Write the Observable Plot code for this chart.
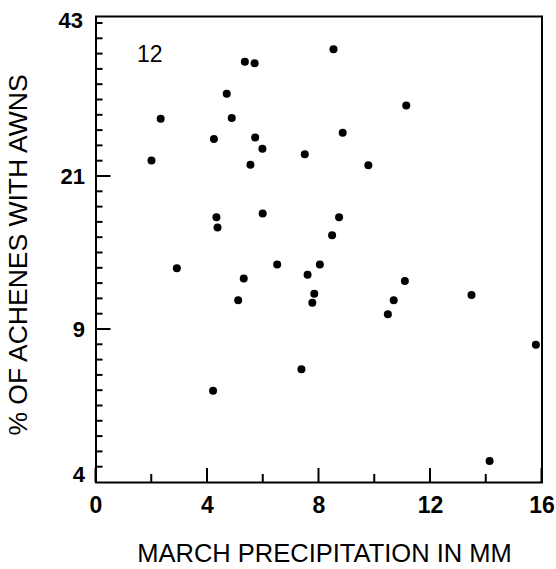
<!DOCTYPE html>
<html><head><meta charset="utf-8">
<script src="https://cdn.jsdelivr.net/npm/d3@7"></script>
<script src="https://cdn.jsdelivr.net/npm/@observablehq/plot@0.6"></script>
<style>body{margin:0;background:#fff} svg{display:block}</style>
</head><body><div id="chart"></div>
<script>
// March precipitation (mm) per site
const precipitation = [5.34,5.69,4.69,2.32,4.87,4.23,5.71,5.97,7.49,1.99,5.54,4.32,5.98,4.36,8.52,11.13,8.85,9.77,8.72,8.47,2.90,5.30,6.50,8.03,7.59,5.10,7.83,7.76,7.37,4.20,11.08,10.68,10.47,13.47,15.78,14.12];
// % of achenes with awns
const awnedPercent = [37.5,37.3,32.9,29.3,29.4,26.4,26.6,25.0,24.2,23.3,22.7,17.8,18.1,17.0,39.3,31.2,27.3,22.6,17.8,16.4,13.8,13.0,14.1,14.1,13.3,11.3,11.8,11.1,7.7,7.0,12.8,11.3,10.2,11.7,8.5,4.7];
const xMajorTicks = [0,4,8,12,16];
const xMinorTicks = [2,6,10,14];
const yTickLabels = [4,9,21,43];
const yLongTicks = [9,21];
const panelLabel = "12";
const xTitle = "MARCH PRECIPITATION IN MM";
const yTitle = "% OF ACHENES WITH AWNS";

const points = precipitation.map((x, i) => ({x, y: awnedPercent[i]}));
// minor ticks: nine evenly spaced between each pair of labelled values, plus the top label
const yMinorTicks = [];
for (let s = 0; s < yTickLabels.length - 1; s++) {
  const a = yTickLabels[s], b = yTickLabels[s + 1];
  for (let k = 1; k < 10; k++) yMinorTicks.push(a + (b - a) * k / 10);
}
yMinorTicks.push(yTickLabels[yTickLabels.length - 1]);

const W = 556, H = 569;
const mT = 16, mB = 87, mL = 95.5, mR = 14.5;
const segment = (H - mB - 23) / (yTickLabels.length - 1);
const yRange = yTickLabels.map((_, i) => H - mB - i * segment);
const yBase = yTickLabels[0];
const xBase = xMajorTicks[0];
const ff = "'Liberation Sans', Arial, Helvetica, sans-serif";

// inward tick marks drawn as thin filled rectangles
const xTick = (ticks, len) => Plot.rect(ticks, {x1: d => d, x2: d => d, y1: yBase, y2: yBase,
  insetLeft: -1, insetRight: -1, insetTop: -len, fill: "black", stroke: null});
const yTick = (ticks, len) => Plot.rect(ticks, {y1: d => d, y2: d => d, x1: xBase, x2: xBase,
  insetTop: -1, insetBottom: -1, insetRight: -len, fill: "black", stroke: null});

const chart = Plot.plot({
  width: W, height: H,
  marginTop: mT, marginBottom: mB, marginLeft: mL, marginRight: mR,
  x: {domain: [0, 16]},
  y: {type: "linear", domain: yTickLabels, range: yRange},
  marks: [
    Plot.frame({stroke: "black", strokeWidth: 2}),
    Plot.axisX({ticks: xMajorTicks, tickSize: 0, tickPadding: 14.5, label: null, fontSize: 23, fontWeight: "bold", fontFamily: ff}),
    Plot.axisY({ticks: yLongTicks, tickSize: 0, tickPadding: 11, label: null, fontSize: 22, fontWeight: "bold", fontFamily: ff}),
    Plot.axisY({ticks: [43], tickSize: 0, tickPadding: 13, label: null, fontSize: 22, fontWeight: "bold", fontFamily: ff, dy: -2.5}),
    Plot.axisY({ticks: [4], tickSize: 0, tickPadding: 11, label: null, fontSize: 22, fontWeight: "bold", fontFamily: ff, dy: -8}),
    Plot.dot(points, {x: "x", y: "y", r: 4, fill: "black", stroke: null}),
    Plot.text([panelLabel], {frameAnchor: "top-left", text: d => d, dx: 41, dy: 38, textAnchor: "start", lineAnchor: "middle", fontSize: 23, fontFamily: ff}),
    Plot.text([xTitle], {frameAnchor: "bottom", text: d => d, dx: 5.5, dy: 79.7, lineAnchor: "bottom", fontSize: 25.5, fontFamily: ff}),
    Plot.text([yTitle], {frameAnchor: "left", text: d => d, rotate: -90, dx: -68.8, dy: 5.5, textAnchor: "middle", lineAnchor: "bottom", fontSize: 26.5, fontFamily: ff}),
    xTick(xMajorTicks, 14),
    xTick(xMinorTicks, 8),
    yTick(yLongTicks, 15),
    yTick(yMinorTicks, 7)
  ]
});
document.getElementById("chart").appendChild(chart);
</script>
</body></html>
